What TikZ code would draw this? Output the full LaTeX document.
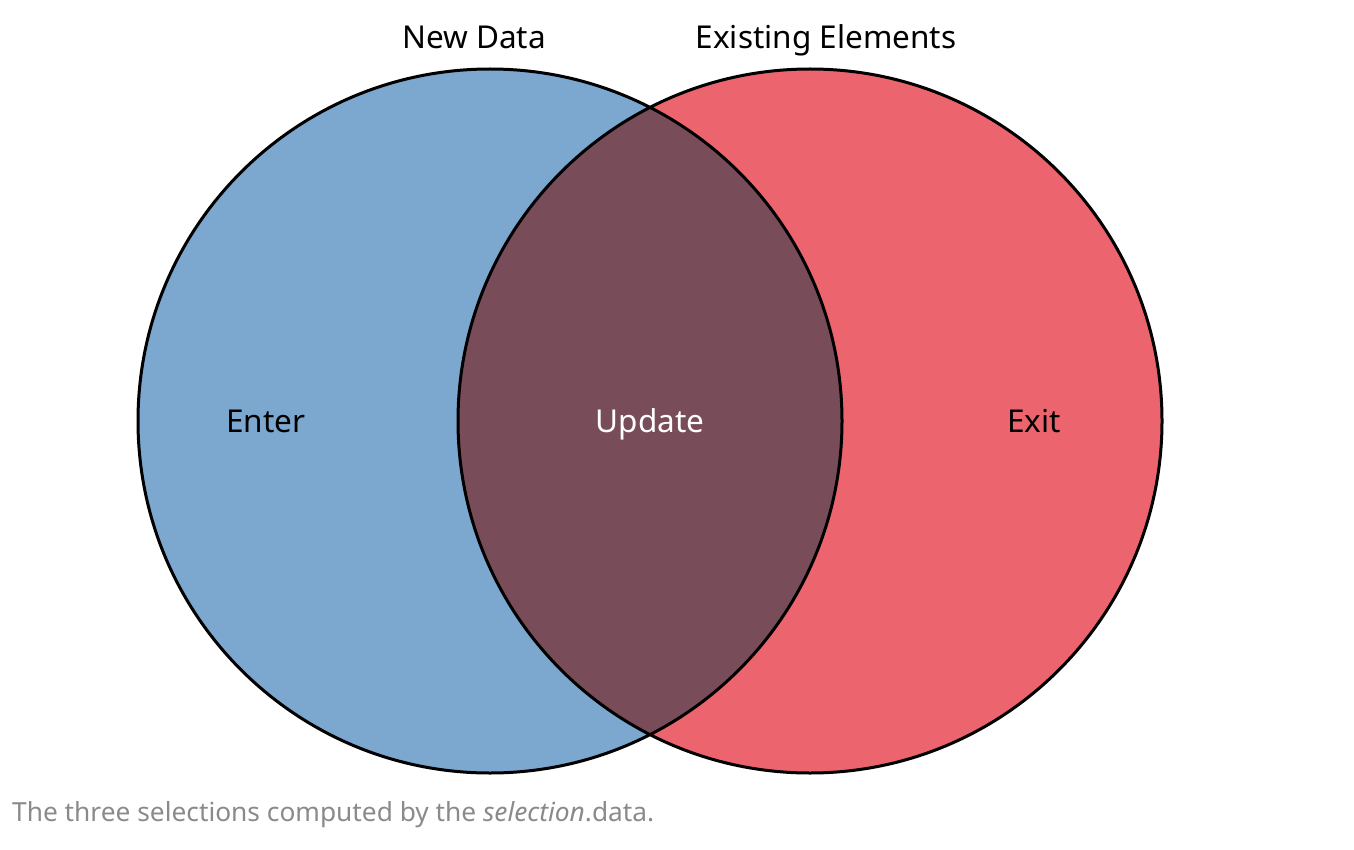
\documentclass[tikz,border=0pt]{standalone}
\usepackage{fontspec}
\setmainfont{Noto Sans}
\usepackage{tikz}
\usetikzlibrary{positioning}

\definecolor{enterblue}{HTML}{7CA7CF}
\definecolor{exitred}{HTML}{EC656E}
\definecolor{updatemaroon}{HTML}{794C59}
\definecolor{captiongray}{HTML}{8A8A8A}

\begin{document}
\begin{tikzpicture}[x=1pt,y=-1pt,
        set/.style={circle,minimum size=704pt,inner sep=0pt,line width=3pt},
        label/.style={anchor=base,inner sep=0pt,font=\fontsize{31.5}{36}\selectfont},
        scale = 1,transform shape]

  \useasboundingbox (0,0) rectangle (1354,850);

  \node[set,fill=enterblue] (newdata) at (490,421) {};
  \node[set,fill=exitred] (existing) at (810,421) {};

  \begin{scope}
    \clip (newdata.center) circle (352);
    \fill[updatemaroon] (existing.center) circle (352);
  \end{scope}

  \draw[line width=3pt] (newdata.center) circle (352)
                        (existing.center) circle (352);

  \node[label] (newlbl) at (474,49) {New Data};
  \node[label] (exlbl) at (826,49) {Existing Elements};

  \node[label] (enter) at (266,432) {Enter};
  \node[label,text=white] (update) at (650,432) {Update};
  \node[label] (exit) at (1034,432) {Exit};

  \node[anchor=base west,inner sep=0pt,text=captiongray,
        font=\fontsize{26.3}{30}\selectfont] (caption) at (12,821)
        {The three selections computed by the \textit{selection}.data.};

\end{tikzpicture}
\end{document}
